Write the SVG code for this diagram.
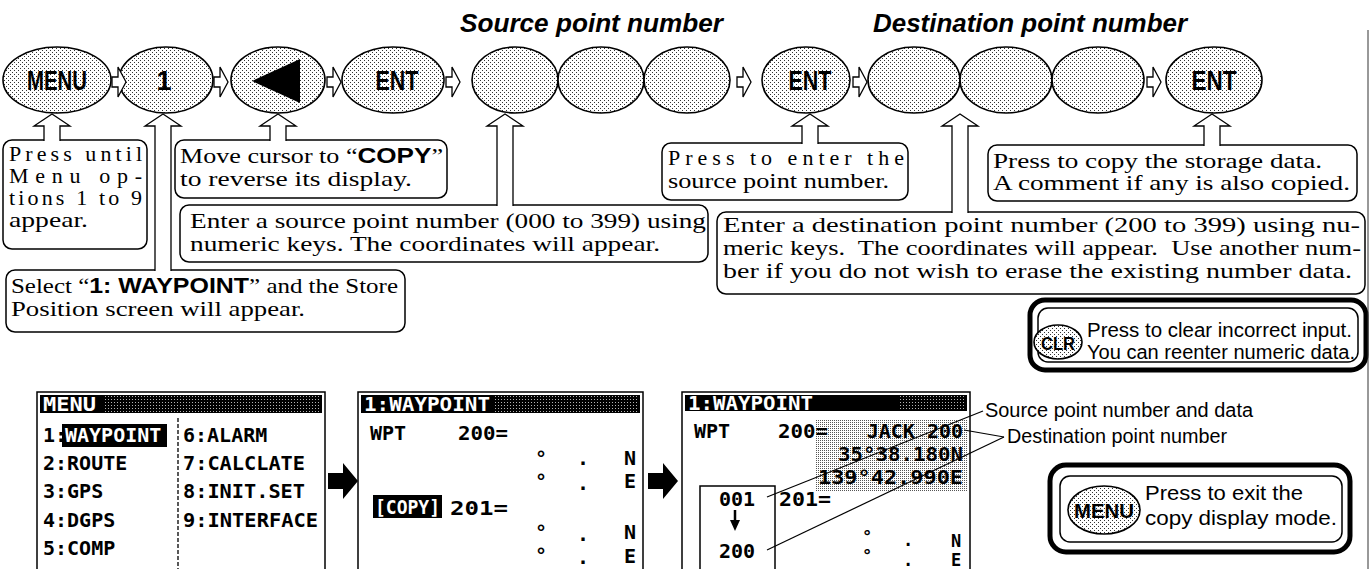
<svg xmlns="http://www.w3.org/2000/svg" width="1370" height="569" viewBox="0 0 1370 569">
<defs>
<pattern id="dots" width="4" height="4" patternUnits="userSpaceOnUse"><rect width="4" height="4" fill="#fff"/><rect width="1" height="1" fill="#333"/><rect x="2" y="2" width="1" height="1" fill="#333"/></pattern>
<pattern id="dots2" width="2" height="2" patternUnits="userSpaceOnUse"><rect width="2" height="2" fill="#fff"/><rect width="1" height="1" fill="#555"/></pattern>
<pattern id="wd" width="3" height="3" patternUnits="userSpaceOnUse"><rect width="1" height="1" fill="#fff"/></pattern>
<style>
.box{fill:#fff;stroke:#000;stroke-width:1.5}
.key{fill:url(#dots);stroke:#000;stroke-width:1.6}
.ser{font-family:"Liberation Serif","Times New Roman",serif;font-size:22px;fill:#000}
.b{font-family:"Liberation Sans",Arial,sans-serif;font-weight:bold}
.sans{font-family:"Liberation Sans",Arial,sans-serif;fill:#000}
.kt{font-family:"Liberation Sans",Arial,sans-serif;font-weight:bold;font-size:27px;text-anchor:middle}
.ttl{font-family:"Liberation Sans",Arial,sans-serif;font-weight:bold;font-style:italic;font-size:26px}
.lcd{font-family:"DejaVu Sans Mono",monospace;font-weight:bold;font-size:20px;fill:#000}
.sm{font-size:17px}
.inv{fill:#fff}
.conn{fill:#fff;stroke:#000;stroke-width:1.3}
.lead{fill:none;stroke:#000;stroke-width:1.2}
.thick{fill:#fff;stroke:#000;stroke-width:5}
.scr{fill:#fff;stroke:#000;stroke-width:1.5}
</style>
</defs>
<rect width="1370" height="569" fill="#fff"/>

<g id="titles">
<text class="ttl" x="460" y="32" textLength="263" lengthAdjust="spacingAndGlyphs">Source point number</text>
<text class="ttl" x="873" y="32" textLength="314" lengthAdjust="spacingAndGlyphs">Destination point number</text>
</g>

<g id="key-menu"><ellipse class="key" cx="57" cy="80" rx="54" ry="33"/><text class="kt" x="57" y="90" textLength="60" lengthAdjust="spacingAndGlyphs">MENU</text></g>
<g id="key-1"><ellipse class="key" cx="166" cy="80" rx="47" ry="33"/><text class="kt" x="164" y="90">1</text></g>
<g id="key-left"><ellipse class="key" cx="278" cy="80" rx="47" ry="33"/><polygon points="252,81 300,59 300,103" fill="#000"/></g>
<g id="key-ent1"><ellipse class="key" cx="393" cy="80" rx="51" ry="33"/><text class="kt" x="397" y="90" textLength="43" lengthAdjust="spacingAndGlyphs">ENT</text></g>
<g id="key-src1"><ellipse class="key" cx="515" cy="80" rx="43" ry="33"/></g>
<g id="key-src2"><ellipse class="key" cx="601" cy="80" rx="43" ry="33"/></g>
<g id="key-src3"><ellipse class="key" cx="687" cy="80" rx="43" ry="33"/></g>
<g id="key-ent2"><ellipse class="key" cx="806" cy="80" rx="44" ry="33"/><text class="kt" x="810" y="90" textLength="43" lengthAdjust="spacingAndGlyphs">ENT</text></g>
<g id="key-dst1"><ellipse class="key" cx="914" cy="80" rx="46" ry="33"/></g>
<g id="key-dst2"><ellipse class="key" cx="1006" cy="80" rx="46" ry="33"/></g>
<g id="key-dst3"><ellipse class="key" cx="1098" cy="80" rx="46" ry="33"/></g>
<g id="key-ent3"><ellipse class="key" cx="1214" cy="80" rx="48" ry="33"/><text class="kt" x="1214" y="90" textLength="45" lengthAdjust="spacingAndGlyphs">ENT</text></g>

<g id="note-press-until">
<rect class="box" x="3" y="140" width="144" height="109" rx="9"/>
<text class="ser" x="9" y="161" textLength="133" lengthAdjust="spacing">Press until</text>
<text class="ser" x="9" y="183" textLength="133" lengthAdjust="spacing">Menu op-</text>
<text class="ser" x="9" y="205" textLength="133" lengthAdjust="spacing">tions 1 to 9</text>
<text class="ser" x="9" y="227" textLength="79" lengthAdjust="spacingAndGlyphs">appear.</text>
</g>
<g id="note-move-cursor">
<rect class="box" x="175" y="140" width="272" height="58" rx="9"/>
<text class="ser" x="180" y="163" textLength="263" lengthAdjust="spacingAndGlyphs">Move cursor to “<tspan class="b">COPY</tspan>”</text>
<text class="ser" x="180" y="186" textLength="232" lengthAdjust="spacingAndGlyphs">to reverse its display.</text>
</g>
<g id="note-enter-source">
<rect class="box" x="180" y="205" width="528" height="57" rx="9"/>
<text class="ser" x="190" y="228" textLength="516" lengthAdjust="spacingAndGlyphs">Enter a source point number (000 to 399) using</text>
<text class="ser" x="190" y="251" textLength="470" lengthAdjust="spacingAndGlyphs">numeric keys. The coordinates will appear.</text>
</g>
<g id="note-select">
<rect class="box" x="6" y="270" width="399" height="62" rx="9"/>
<text class="ser" x="11" y="293" textLength="387" lengthAdjust="spacingAndGlyphs">Select “<tspan class="b">1: WAYPOINT</tspan>” and the Store</text>
<text class="ser" x="11" y="316" textLength="294" lengthAdjust="spacingAndGlyphs">Position screen will appear.</text>
</g>
<g id="note-press-enter">
<rect class="box" x="662" y="143" width="246" height="57" rx="9"/>
<text class="ser" x="668" y="165" textLength="236" lengthAdjust="spacing">Press to enter the</text>
<text class="ser" x="668" y="188" textLength="221" lengthAdjust="spacingAndGlyphs">source point number.</text>
</g>
<g id="note-enter-dest">
<rect class="box" x="717" y="212" width="648" height="82" rx="9"/>
<text class="ser" x="723" y="232" textLength="637" lengthAdjust="spacingAndGlyphs">Enter a destination point number (200 to 399) using nu-</text>
<text class="ser" x="723" y="255" textLength="638" lengthAdjust="spacingAndGlyphs" xml:space="preserve">meric keys.  The coordinates will appear.  Use another num-</text>
<text class="ser" x="723" y="278" textLength="629" lengthAdjust="spacingAndGlyphs">ber if you do not wish to erase the existing number data.</text>
</g>
<g id="note-press-copy">
<rect class="box" x="988" y="145" width="369" height="56" rx="9"/>
<text class="ser" x="993" y="168" textLength="329" lengthAdjust="spacingAndGlyphs">Press to copy the storage data.</text>
<text class="ser" x="993" y="190" textLength="357" lengthAdjust="spacingAndGlyphs">A comment if any is also copied.</text>
</g>
<g id="note-clr">
<rect class="thick" x="1030" y="300" width="336" height="70" rx="15"/>
<rect class="box" x="1038" y="308" width="320" height="54" rx="10"/>
<ellipse class="key" cx="1058" cy="342" rx="24" ry="17"/>
<text class="b" x="1058" y="350" font-size="19" text-anchor="middle" textLength="34" lengthAdjust="spacingAndGlyphs">CLR</text>
<text class="sans" x="1087" y="337" font-size="20" textLength="265" lengthAdjust="spacingAndGlyphs">Press to clear incorrect input.</text>
<text class="sans" x="1087" y="359" font-size="20" textLength="268" lengthAdjust="spacingAndGlyphs">You can reenter numeric data.</text>
</g>
<g id="note-menu-exit">
<rect class="thick" x="1050" y="465" width="300" height="87" rx="16"/>
<rect class="box" x="1060" y="476" width="282" height="66" rx="10"/>
<ellipse class="key" cx="1104" cy="510" rx="36" ry="24"/>
<text class="b" x="1104" y="518" font-size="21" text-anchor="middle" textLength="60" lengthAdjust="spacingAndGlyphs">MENU</text>
<text class="sans" x="1145" y="500" font-size="21" textLength="158" lengthAdjust="spacingAndGlyphs">Press to exit the</text>
<text class="sans" x="1145" y="525" font-size="21" textLength="192" lengthAdjust="spacingAndGlyphs">copy display mode.</text>
</g>

<g id="screen-menu">
<rect class="scr" x="37" y="392" width="288" height="190"/>
<rect x="40" y="395" width="282" height="18" fill="#000"/>
<rect x="105" y="395" width="215" height="18" fill="url(#wd)" opacity="0.7"/>
<text class="lcd inv" x="43" y="411" font-size="18" textLength="53" lengthAdjust="spacingAndGlyphs">MENU</text>
<rect x="62" y="424" width="105" height="23" fill="#000"/>
<text class="lcd" x="43" y="442">1:<tspan class="inv" x="65">WAYPOINT</tspan></text>
<text class="lcd" x="43" y="470">2:ROUTE</text>
<text class="lcd" x="43" y="498">3:GPS</text>
<text class="lcd" x="43" y="527">4:DGPS</text>
<text class="lcd" x="43" y="555">5:COMP</text>
<line x1="178" y1="418" x2="178" y2="569" stroke="#000" stroke-width="1.3" stroke-dasharray="4 2"/>
<text class="lcd" x="183" y="442">6:ALARM</text>
<text class="lcd" x="183" y="470" textLength="122" lengthAdjust="spacingAndGlyphs">7:CALCLATE</text>
<text class="lcd" x="183" y="498" textLength="122" lengthAdjust="spacingAndGlyphs">8:INIT.SET</text>
<text class="lcd" x="183" y="527" textLength="135" lengthAdjust="spacingAndGlyphs">9:INTERFACE</text>
</g>

<g id="screen-copy">
<rect class="scr" x="358" y="392" width="285" height="190"/>
<rect x="361" y="395" width="279" height="18" fill="#000"/>
<rect x="495" y="395" width="143" height="18" fill="url(#wd)" opacity="0.7"/>
<text class="lcd inv" x="364" y="411" textLength="126" lengthAdjust="spacingAndGlyphs">1:WAYPOINT</text>
<text class="lcd" x="370" y="440">WPT</text>
<text class="lcd" x="458" y="440" textLength="50" lengthAdjust="spacingAndGlyphs">200=</text>
<text class="lcd" x="535" y="465">°</text><text class="lcd" x="577" y="465">.</text><text class="lcd" x="624" y="465">N</text>
<text class="lcd" x="535" y="488">°</text><text class="lcd" x="577" y="490">.</text><text class="lcd" x="624" y="488">E</text>
<rect x="373" y="495" width="69" height="23" fill="#000"/>
<text class="lcd inv" x="375" y="514" textLength="65" lengthAdjust="spacingAndGlyphs">[COPY]</text>
<text class="lcd" x="450" y="515" textLength="58" lengthAdjust="spacingAndGlyphs">201=</text>
<text class="lcd" x="535" y="539">°</text><text class="lcd" x="577" y="541">.</text><text class="lcd" x="624" y="539">N</text>
<text class="lcd" x="535" y="562">°</text><text class="lcd" x="577" y="564">.</text><text class="lcd" x="624" y="563">E</text>
</g>

<g id="screen-result">
<rect class="scr" x="682" y="392" width="288" height="190"/>
<rect x="685" y="395" width="282" height="16" fill="#000"/>
<rect x="900" y="395" width="64" height="16" fill="url(#wd)" opacity="0.7"/>
<text class="lcd inv" x="688" y="410" textLength="125" lengthAdjust="spacingAndGlyphs">1:WAYPOINT</text>
<rect x="815" y="419" width="152" height="72" fill="url(#dots2)"/>
<text class="lcd" x="694" y="438">WPT</text>
<text class="lcd" x="778" y="438" textLength="50" lengthAdjust="spacingAndGlyphs">200=</text>
<text class="lcd" x="963" y="438" text-anchor="end">JACK 200</text>
<text class="lcd" x="963" y="461" text-anchor="end" textLength="125" lengthAdjust="spacingAndGlyphs">35°38.180N</text>
<text class="lcd" x="963" y="484" text-anchor="end" textLength="145" lengthAdjust="spacingAndGlyphs">139°42.990E</text>
<rect class="scr" x="700" y="486" width="75" height="95"/>
<text class="lcd" x="737" y="506" text-anchor="middle">001</text>
<line x1="735" y1="510" x2="735" y2="522" stroke="#000" stroke-width="2.5"/>
<polygon points="730,520 740,520 735,531" fill="#000"/>
<text class="lcd" x="737" y="558" text-anchor="middle">200</text>
<text class="lcd" x="779" y="506" textLength="52" lengthAdjust="spacingAndGlyphs">201=</text>
<text class="lcd sm" x="862" y="543">°</text><text class="lcd sm" x="903" y="546">.</text><text class="lcd sm" x="951" y="547">N</text>
<text class="lcd sm" x="862" y="562">°</text><text class="lcd sm" x="903" y="566">.</text><text class="lcd sm" x="951" y="566">E</text>
</g>

<g id="screen-labels">
<text class="sans" x="985" y="417" font-size="20" textLength="268" lengthAdjust="spacingAndGlyphs">Source point number and data</text>
<text class="sans" x="1007" y="443" font-size="20" textLength="220" lengthAdjust="spacingAndGlyphs">Destination point number</text>
</g>

<g id="connectors">
<path class="conn" d="M112,77 h6 v-10 l8,15 l-8,15 v-10 h-6 z"/>
<path class="conn" d="M214,77 h6 v-10 l8,15 l-8,15 v-10 h-6 z"/>
<path class="conn" d="M327,77 h6 v-10 l8,15 l-8,15 v-10 h-6 z"/>
<path class="conn" d="M446,77 h6 v-10 l8,15 l-8,15 v-10 h-6 z"/>
<path class="conn" d="M737,77 h6 v-10 l8,15 l-8,15 v-10 h-6 z"/>
<path class="conn" d="M853,77 h6 v-10 l8,15 l-8,15 v-10 h-6 z"/>
<path class="conn" d="M1147,77 h6 v-10 l8,15 l-8,15 v-10 h-6 z"/>
<path class="conn" d="M44,141 V126 H34 L52,114 L70,126 H60 V141"/>
<path class="conn" d="M155,271 V126 H145 L163,114 L181,126 H171 V271"/>
<path class="conn" d="M270,141 V126 H260 L278,114 L296,126 H286 V141"/>
<path class="conn" d="M497,206 V126 H487 L505,114 L523,126 H513 V206"/>
<path class="conn" d="M802,144 V126 H792 L810,114 L828,126 H818 V144"/>
<path class="conn" d="M952,213 V126 H942 L960,114 L978,126 H968 V213"/>
<path class="conn" d="M1204,146 V126 H1194 L1212,114 L1230,126 H1220 V146"/>
<polygon points="328,473 343,473 343,463 358,481 343,499 343,489 328,489" fill="#000"/>
<polygon points="648,473 663,473 663,463 678,481 663,499 663,489 648,489" fill="#000"/>
<line class="lead" x1="767" y1="497" x2="983" y2="411"/>
<line class="lead" x1="767" y1="550" x2="1004" y2="437"/>
<line class="lead" x1="964" y1="430" x2="1004" y2="437"/>
</g>
<line x1="1368" y1="30" x2="1368" y2="569" stroke="#333" stroke-width="1"/>
</svg>
